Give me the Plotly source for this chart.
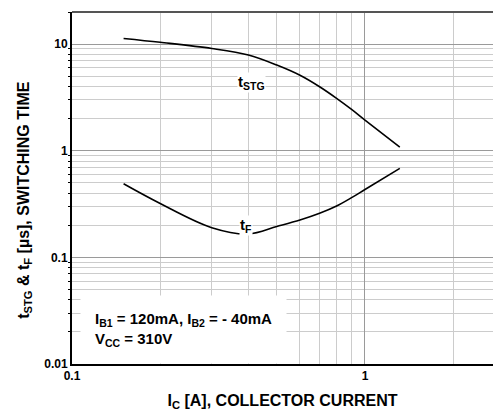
import plotly.graph_objects as go

# Data
ic_stg = [0.15, 0.2, 0.3, 0.4, 0.5, 0.6, 0.7, 0.8, 0.9, 1.0, 1.315]
t_stg = [11.3, 10.4, 9.1, 7.9, 6.36, 5.1, 3.98, 3.1, 2.44, 1.94, 1.08]

ic_f = [0.15, 0.2, 0.3, 0.4, 0.5, 0.6, 0.7, 0.8, 0.9, 1.0, 1.315]
t_f = [0.49, 0.32, 0.19, 0.166, 0.195, 0.224, 0.259, 0.303, 0.363, 0.433, 0.684]

x_major = [0.1, 1]
x_major_text = ["0.1", "1"]
x_minor = [0.2, 0.3, 0.4, 0.5, 0.6, 0.7, 0.8, 0.9, 2]
y_major = [0.01, 0.1, 1, 10]
y_major_text = ["0.01", "0.1", "1", "10"]
y_minor = [0.02, 0.03, 0.04, 0.05, 0.06, 0.07, 0.08, 0.09,
           0.2, 0.3, 0.4, 0.5, 0.6, 0.7, 0.8, 0.9,
           2, 3, 4, 5, 6, 7, 8, 9, 20]

FONT = "Liberation Sans, Arial, Helvetica, sans-serif"

fig = go.Figure()
fig.add_trace(go.Scatter(x=ic_stg, y=t_stg, mode="lines",
                         line=dict(color="black", width=1.6, shape="spline"),
                         showlegend=False, hoverinfo="skip"))
fig.add_trace(go.Scatter(x=ic_f, y=t_f, mode="lines",
                         line=dict(color="black", width=1.6, shape="spline"),
                         showlegend=False, hoverinfo="skip"))

fig.add_annotation(x=-0.389, y=0.64, xref="x", yref="y",
                   text="t<sub>STG</sub>", showarrow=False,
                   font=dict(family=FONT, size=15, color="black", weight="bold"),
                   bgcolor="white", borderpad=0)
fig.add_annotation(x=-0.405, y=-0.705, xref="x", yref="y",
                   text="t<sub>F</sub>", showarrow=False,
                   font=dict(family=FONT, size=15, color="black", weight="bold"),
                   bgcolor="white", borderpad=0)
fig.add_annotation(x=0.019, y=0.097, xref="paper", yref="paper",
                   xanchor="left", yanchor="middle", align="left",
                   text="I<sub>B1</sub> = 120mA, I<sub>B2</sub> = - 40mA<br>V<sub>CC</sub> = 310V",
                   showarrow=False,
                   font=dict(family=FONT, size=15, color="black", weight="bold"),
                   bgcolor="white", borderpad=14)
# y-axis title (placed as annotation to match its vertical offset)
fig.add_annotation(x=-0.112, y=0.466, xref="paper", yref="paper",
                   xanchor="center", yanchor="middle", textangle=-90,
                   text="t<sub>STG</sub> & t<sub>F</sub> [µs], SWITCHING TIME",
                   showarrow=False,
                   font=dict(family=FONT, size=16, color="black", weight="bold"))

fig.add_shape(type="line", xref="paper", yref="paper", x0=0, x1=1, y0=1, y1=1,
              line=dict(color="#555555", width=2))

fig.update_layout(
    width=493, height=420,
    margin=dict(l=72, r=0, t=12, b=56, autoexpand=False),
    paper_bgcolor="white", plot_bgcolor="white",
    font=dict(family=FONT, color="black"),
    xaxis=dict(
        type="log", range=[-1, 0.437], automargin=False,
        tickvals=x_major, ticktext=x_major_text,
        showgrid=True, gridcolor="#9a9a9a", gridwidth=1,
        showline=True, linecolor="black", linewidth=2,
        ticks="", zeroline=False,
        tickfont=dict(family=FONT, size=12, weight="bold"),
        minor=dict(tickvals=x_minor, showgrid=True, gridcolor="#cccccc", gridwidth=1,
                   ticks=""),
        title=dict(text="I<sub>C</sub> [A], COLLECTOR CURRENT",
                   font=dict(family=FONT, size=16, weight="bold"), standoff=12),
    ),
    yaxis=dict(
        type="log", range=[-2, 1.301], automargin=False,
        tickvals=y_major, ticktext=y_major_text,
        showgrid=True, gridcolor="#9a9a9a", gridwidth=1,
        showline=True, linecolor="black", linewidth=2,
        ticks="", zeroline=False,
        tickfont=dict(family=FONT, size=12, weight="bold"),
        minor=dict(tickvals=y_minor, showgrid=True, gridcolor="#cccccc", gridwidth=1,
                   ticks="outside", ticklen=2, tickcolor="black"),
    ),
)

fig.write_html("out.html", config={"displayModeBar": False},
               post_script="document.body.style.margin='0';document.body.style.overflow='hidden';")
